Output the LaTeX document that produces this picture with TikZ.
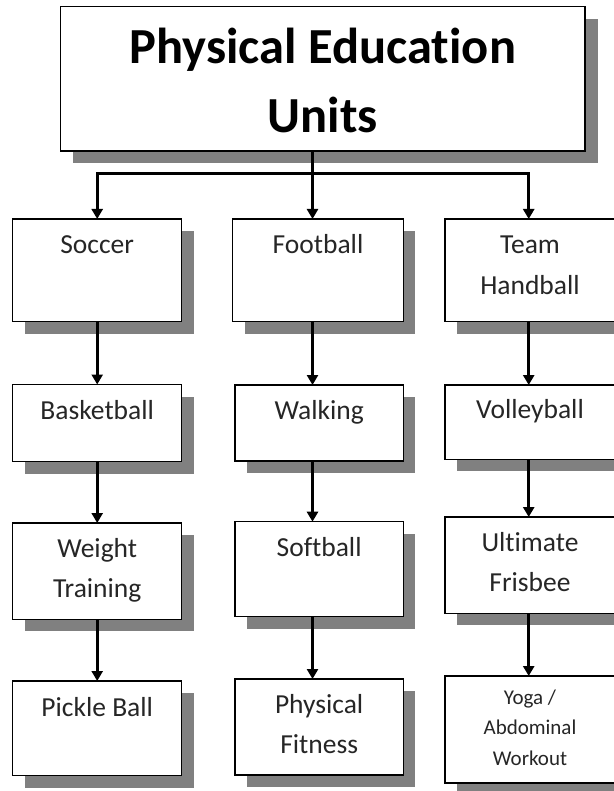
\documentclass[tikz,border=0pt]{standalone}
\usepackage{fontspec}
\setmainfont{Carlito}[Ligatures={NoCommon}]
\usetikzlibrary{arrows.meta,shadows}
\definecolor{shadowgray}{HTML}{808080}
\definecolor{txtgray}{HTML}{262626}
\newcommand{\pecell}[4]{\parbox[t][#2pt][t]{#1pt}{\centering\rule{0pt}{#3pt}#4}}
\tikzset{
  pebox/.style={draw=black, line width=1.3pt, fill=white, inner sep=0pt, outer sep=0pt,
    anchor=north west, text=txtgray,
    general shadow={fill=shadowgray, shadow xshift=12pt, shadow yshift=-12pt},
    font=\fontsize{27.5}{40}\selectfont},
  titlebox/.style={pebox, text=black, font=\fontsize{50.5}{69}\selectfont\bfseries,
    general shadow={fill=shadowgray, shadow xshift=12.5pt, shadow yshift=-12.5pt}},
  smallbox/.style={pebox, font=\fontsize{21}{30.5}\selectfont},
  conn/.style={draw=black, line width=3pt, -{Triangle[width=11pt,length=10pt]}}
}
\begin{document}
\begin{tikzpicture}[x=1pt,y=-1pt]
\useasboundingbox (0,0) rectangle (613,791);
\coordinate (c1) at (97.2,0);
\coordinate (c2) at (312.5,0);
\coordinate (c3) at (528.7,0);
\coordinate (bar) at (0,173.3);

\node[titlebox] (title) at (60.5,6.7) {\pecell{524.5}{144.3}{57.3}{Physical Education\\Units}};

\node[pebox] (soccer) at (12.7,219) {\pecell{169}{102.7}{35}{Soccer}};
\node[pebox] (football) at (232.7,219) {\pecell{170.6}{102.7}{35}{Football}};
\node[pebox] (handball) at (445,219) {\pecell{170}{102.7}{35}{Team\\Handball}};

\node[pebox] (basketball) at (12.7,384.5) {\pecell{169}{77.2}{35}{Basketball}};
\node[pebox] (walking) at (235,385) {\pecell{168.3}{76}{34}{Walking}};
\node[pebox] (volleyball) at (445,385) {\pecell{170}{74.3}{33.5}{Volleyball}};

\node[pebox] (weight) at (12.7,523) {\pecell{169}{96.3}{34}{Weight\\Training}};
\node[pebox] (softball) at (235,521.7) {\pecell{168.3}{95}{34.3}{Softball}};
\node[pebox] (frisbee) at (445,517) {\pecell{170}{96.3}{34.7}{Ultimate\\Frisbee}};

\node[pebox] (pickle) at (12.7,681) {\pecell{169}{94.7}{35.5}{Pickle Ball}};
\node[pebox] (fitness) at (235,679) {\pecell{168.3}{96}{34}{Physical\\Fitness}};
\node[smallbox] (yoga) at (445,676) {\pecell{170}{107}{28}{Yoga /\\Abdominal\\Workout}};

% top connectors
\draw[conn] (c2 |- title.south) -- (c2 |- football.north);
\draw[conn] (c2 |- bar) -| (c1 |- soccer.north);
\draw[conn] (c2 |- bar) -| (c3 |- handball.north);

% column connectors
\draw[conn] (c1 |- soccer.south) -- (c1 |- basketball.north);
\draw[conn] (c1 |- basketball.south) -- (c1 |- weight.north);
\draw[conn] (c1 |- weight.south) -- (c1 |- pickle.north);

\draw[conn] (c2 |- football.south) -- (c2 |- walking.north);
\draw[conn] (c2 |- walking.south) -- (c2 |- softball.north);
\draw[conn] (c2 |- softball.south) -- (c2 |- fitness.north);

\draw[conn] (c3 |- handball.south) -- (c3 |- volleyball.north);
\draw[conn] (c3 |- volleyball.south) -- (c3 |- frisbee.north);
\draw[conn] (c3 |- frisbee.south) -- (c3 |- yoga.north);
\end{tikzpicture}
\end{document}
